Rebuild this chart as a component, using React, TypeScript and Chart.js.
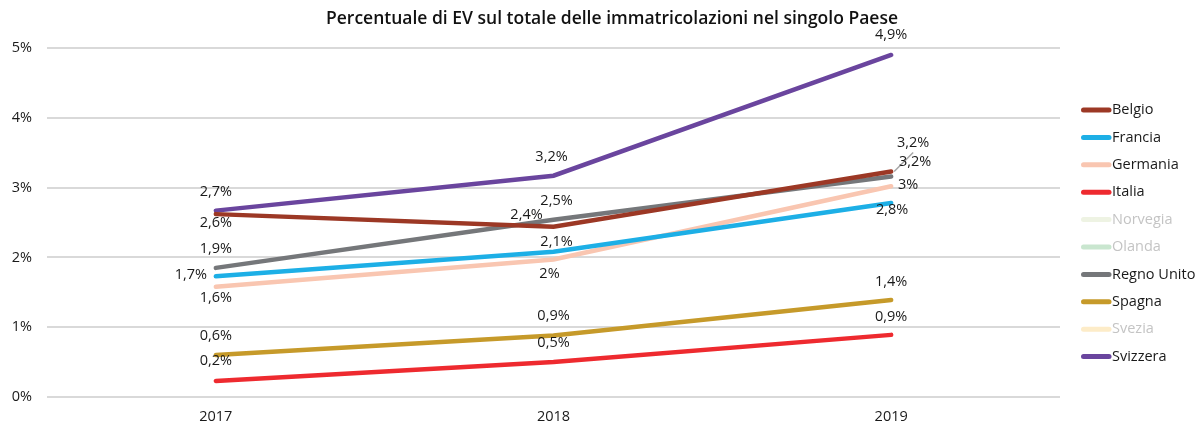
import React, { useEffect, useRef } from "react";
import { Chart, registerables } from "chart.js";

Chart.register(...registerables);

const title = "Percentuale di EV sul totale delle immatricolazioni nel singolo Paese";
const years = ["2017", "2018", "2019"];
const yTickLabels = ["0%", "1%", "2%", "3%", "4%", "5%"];
const belgio = [2.62, 2.44, 3.23];
const francia = [1.73, 2.08, 2.78];
const germania = [1.58, 1.97, 3.02];
const italia = [0.23, 0.5, 0.89];
const norvegia: (number | null)[] = [null, null, null];
const olanda: (number | null)[] = [null, null, null];
const regnoUnito = [1.85, 2.54, 3.16];
const spagna = [0.6, 0.88, 1.39];
const svezia: (number | null)[] = [null, null, null];
const svizzera = [2.67, 3.17, 4.9];

const labelTexts: Record<string, string[]> = {
  Belgio: ["2,6%", "2,4%", "3,2%"],
  Francia: ["1,7%", "2,1%", "2,8%"],
  Germania: ["1,6%", "2%", "3%"],
  Italia: ["0,2%", "0,5%", "0,9%"],
  "Regno Unito": ["1,9%", "2,5%", "3,2%"],
  Spagna: ["0,6%", "0,9%", "1,4%"],
  Svizzera: ["2,7%", "3,2%", "4,9%"],
};

// label offsets (dx, dy) relative to the point — styling only
const labelOffsets: Record<string, [number, number][]> = {
  Belgio: [[0, 9], [-27, -12], [22, -29]],
  Francia: [[-25, -1], [3, -10], [1, 7]],
  Germania: [[0, 11], [-4, 14], [17, -1]],
  Italia: [[0, -20], [0, -19], [0, -18]],
  "Regno Unito": [[0, -19], [3, -19], [24, -15]],
  Spagna: [[0, -19], [0, -20], [0, -18]],
  Svizzera: [[0, -19], [-2, -19], [0, -20]],
};
const leaders: Record<string, number[]> = { Belgio: [2] };

const FONT = "'Open Sans', 'Noto Sans', sans-serif";
const TEXT = "#1a1a1a";

const series = [
  { label: "Belgio", data: belgio, color: "#9C3825", hidden: false },
  { label: "Francia", data: francia, color: "#1DAFE6", hidden: false },
  { label: "Germania", data: germania, color: "#F9C6B1", hidden: false },
  { label: "Italia", data: italia, color: "#EE2A2F", hidden: false },
  { label: "Norvegia", data: norvegia, color: "#EEF3E3", hidden: true },
  { label: "Olanda", data: olanda, color: "#C9E6CF", hidden: true },
  { label: "Regno Unito", data: regnoUnito, color: "#75777A", hidden: false },
  { label: "Spagna", data: spagna, color: "#C69A2A", hidden: false },
  { label: "Svezia", data: svezia, color: "#FDECC8", hidden: true },
  { label: "Svizzera", data: svizzera, color: "#6A459E", hidden: false },
];

const labelPlugin = {
  id: "pointLabels",
  afterDatasetsDraw(chart: any) {
    const ctx = chart.ctx;
    ctx.save();
    ctx.font = `14.5px ${FONT}`;
    ctx.fillStyle = TEXT;
    ctx.textAlign = "center";
    ctx.textBaseline = "middle";
    chart.data.datasets.forEach((ds: any, i: number) => {
      if (ds.hidden) return;
      const texts = labelTexts[ds.label];
      const offs = labelOffsets[ds.label];
      if (!texts) return;
      const meta = chart.getDatasetMeta(i);
      meta.data.forEach((pt: any, j: number) => {
        const [dx, dy] = offs[j];
        const x = pt.x + dx;
        const y = pt.y + dy;
        if ((leaders[ds.label] || []).includes(j)) {
          ctx.save();
          ctx.strokeStyle = "#a6a6a6";
          ctx.lineWidth = 1.5;
          ctx.beginPath();
          ctx.moveTo(pt.x + 3, pt.y);
          ctx.lineTo(x, y + 10);
          ctx.stroke();
          ctx.restore();
        }
        ctx.fillText(texts[j], x, y);
      });
    });
    ctx.restore();
  },
};

const titleLegendPlugin = {
  id: "titleLegend",
  afterDraw(chart: any) {
    const ctx = chart.ctx;
    ctx.save();
    ctx.font = `600 17.5px ${FONT}`;
    ctx.fillStyle = "#111";
    ctx.textAlign = "center";
    ctx.textBaseline = "middle";
    ctx.fillText(title, 612, 19);

    const x0 = chart.chartArea.right + 21;
    const y0 = 110;
    const step = 27.4;
    ctx.font = `14.5px ${FONT}`;
    ctx.textAlign = "left";
    chart.data.datasets.forEach((ds: any, i: number) => {
      const y = y0 + i * step;
      ctx.strokeStyle = ds.borderColor;
      ctx.lineWidth = 5;
      ctx.lineCap = "round";
      ctx.beginPath();
      ctx.moveTo(x0 + 2.5, y);
      ctx.lineTo(x0 + 28, y);
      ctx.stroke();
      ctx.fillStyle = ds.hidden ? "#c4c4c4" : TEXT;
      ctx.fillText(ds.label, x0 + 31, y);
    });
    ctx.restore();
  },
};

export default function App() {
  const ref = useRef<HTMLCanvasElement>(null);
  useEffect(() => {
    document.body.style.margin = "0";
    const chart = new Chart(ref.current!, {
      type: "line",
      data: {
        labels: years,
        datasets: series.map((s) => ({
          label: s.label,
          data: s.data,
          borderColor: s.color,
          backgroundColor: s.color,
          borderWidth: 4.5,
          pointRadius: 0,
          tension: 0,
          borderCapStyle: "round" as const,
          hidden: s.hidden,
        })),
      },
      options: {
        animation: false,
        responsive: false,
        layout: { padding: { left: 8, right: 140, top: 48, bottom: 0 } },
        plugins: {
          title: { display: false },
          legend: { display: false },
          tooltip: { enabled: false },
        },
        scales: {
          x: {
            offset: true,
            grid: { display: false, drawTicks: false },
            border: { display: false },
            ticks: { color: TEXT, font: { family: FONT, size: 14.5 }, padding: 11 },
            afterFit: (scale: any) => {
              scale.height = 26;
            },
          },
          y: {
            min: 0,
            max: 5,
            border: { display: false },
            grid: { color: "#d9d9d9", lineWidth: 2, drawTicks: false },
            ticks: {
              stepSize: 1,
              padding: 15,
              color: TEXT,
              font: { family: FONT, size: 14.5 },
              callback: (_v: any, i: number) => yTickLabels[i],
            },
            afterFit: (scale: any) => {
              scale.width = 39;
            },
          },
        },
      },
      plugins: [labelPlugin, titleLegendPlugin],
    });
    return () => chart.destroy();
  }, []);
  return (
    <div style={{ width: 1200, height: 423 }}>
      <canvas ref={ref} width={1200} height={423} />
    </div>
  );
}
